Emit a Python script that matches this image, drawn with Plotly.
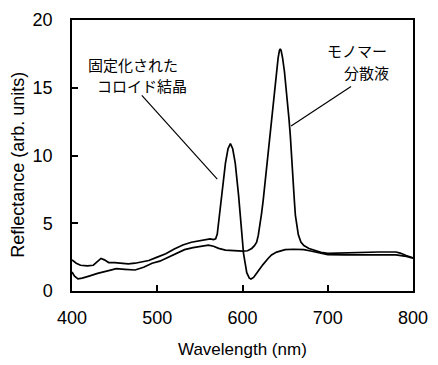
import plotly.graph_objects as go

# Reflectance spectra (arb. units) versus wavelength (nm)
wl_crystal = [400, 405, 410, 418, 425, 430, 434, 438, 443, 450, 458, 466, 474, 482, 490,
              500, 510, 520, 530, 540, 548, 555, 562, 566, 568.5, 570.4, 573.1, 576.2, 580,
              583, 585.8, 588.5, 591.5, 595.4, 598.5, 601.2, 605, 608, 610, 613, 617, 620.4,
              624, 630, 634, 640, 645, 650, 660, 672, 680, 690, 700, 720, 740, 760, 780, 790, 800]
refl_crystal = [2.3, 2.05, 1.9, 1.85, 1.9, 2.2, 2.4, 2.3, 2.1, 2.1, 2.05, 2.0, 2.05, 2.15, 2.25,
                2.5, 2.75, 3.1, 3.4, 3.6, 3.7, 3.75, 3.85, 3.8, 3.85, 4.2, 5.63, 7.53, 9.44,
                10.5, 10.88, 10.5, 9.44, 7.06, 4.68, 2.78, 1.35, 0.95, 0.88, 1.0, 1.35, 1.6,
                1.95, 2.4, 2.66, 2.87, 2.98, 3.05, 3.08, 3.05, 2.95, 2.8, 2.68, 2.67, 2.67, 2.67, 2.66, 2.58, 2.42]

wl_monomer = [400, 403, 407, 412, 420, 430, 443, 452, 462, 474, 484, 494, 503, 513, 522, 532,
              542, 552, 560, 566, 572, 580, 590, 600, 606, 610.8, 614, 616.6, 618.5, 620.4,
              622.3, 624.3, 626.2, 628.1, 630, 632, 634, 635.8, 637.8, 639.7, 641.8, 643.3,
              644.3, 645.3, 647, 649.2, 651.2, 653.1, 654.6, 656.1, 657.5, 658.9, 660, 660.8,
              662, 663.5, 665.5, 668.5, 672, 678, 685, 692, 700, 720, 735, 740, 760, 780, 785, 792, 800]
refl_monomer = [1.4, 1.1, 0.9, 0.95, 1.1, 1.3, 1.5, 1.65, 1.6, 1.55, 1.75, 2.05, 2.2, 2.5, 2.8, 3.05,
                3.2, 3.3, 3.38, 3.3, 3.15, 3.02, 2.97, 2.95, 2.97, 3.14, 3.35, 3.61, 4.1, 4.8,
                5.7, 6.7, 7.9, 9.08, 10.25, 11.45, 12.65, 13.83, 15.0, 16.2, 17.2, 17.75,
                17.87, 17.75, 17.2, 16.2, 15.0, 13.83, 12.65, 11.45, 10.25, 9.08, 7.9, 6.7,
                5.6, 4.8, 4.15, 3.61, 3.35, 3.14, 2.98, 2.85, 2.78, 2.82, 2.82, 2.87, 2.88, 2.88, 2.8, 2.62, 2.45]

x_ticks = [400, 500, 600, 700, 800]
y_ticks = [0, 5, 10, 15, 20]

# Callout labels and their leader lines (data coordinates)
label_crystal = ["固定化された", "コロイド結晶"]
label_crystal_x = [471.4, 481.9]
label_crystal_y = [16.73, 15.16]
label_monomer = ["モノマー", "分散液"]
label_monomer_x = [733.9, 745.4]
label_monomer_y = [17.75, 16.09]
leader_crystal = [(481.9, 14.43), (570.4, 8.25)]
leader_monomer = [(727.3, 15.09), (657.0, 12.17)]

latin = "Liberation Sans, Arial, sans-serif"
cjk = "Noto Sans CJK JP, sans-serif"

fig = go.Figure()
fig.add_trace(go.Scatter(x=wl_crystal, y=refl_crystal, mode="lines",
                         line=dict(color="black", width=1.7), showlegend=False))
fig.add_trace(go.Scatter(x=wl_monomer, y=refl_monomer, mode="lines",
                         line=dict(color="black", width=1.7), showlegend=False))

for (p0, p1) in (leader_crystal, leader_monomer):
    fig.add_shape(type="line", xref="x", yref="y", x0=p0[0], y0=p0[1], x1=p1[0], y1=p1[1],
                  line=dict(color="black", width=1.2))

for texts, xs, ys in ((label_crystal, label_crystal_x, label_crystal_y),
                      (label_monomer, label_monomer_x, label_monomer_y)):
    for t, x, y in zip(texts, xs, ys):
        fig.add_annotation(x=x, y=y, xref="x", yref="y", text=t, showarrow=False,
                           xanchor="center", yanchor="middle",
                           font=dict(family=cjk, size=15, color="black"))

# Axis titles
fig.add_annotation(xref="paper", yref="paper", x=0.5, y=0, yshift=-58, text="Wavelength (nm)",
                   showarrow=False, xanchor="center", yanchor="middle",
                   font=dict(family=latin, size=17, color="black"))
fig.add_annotation(xref="paper", yref="paper", x=0, y=0.466, xshift=-54,
                   text="Reflectance (arb. units)", textangle=-90, showarrow=False,
                   xanchor="center", yanchor="middle",
                   font=dict(family=latin, size=18, color="black"))

axis_common = dict(showline=True, mirror=True, linecolor="black", linewidth=1.5,
                   ticks="inside", ticklen=6, tickwidth=1.5, tickcolor="black",
                   showgrid=False, zeroline=False,
                   tickfont=dict(family=latin, size=18, color="black"))

fig.update_xaxes(range=[400, 800], tickvals=x_ticks, ticklabelstandoff=10, **axis_common)
fig.update_yaxes(range=[0, 20], tickvals=y_ticks, ticklabelstandoff=14, **axis_common)

fig.update_layout(width=438, height=365, margin=dict(l=72, r=16, t=10, b=74),
                  paper_bgcolor="white", plot_bgcolor="white")

fig.write_html("out.html")
